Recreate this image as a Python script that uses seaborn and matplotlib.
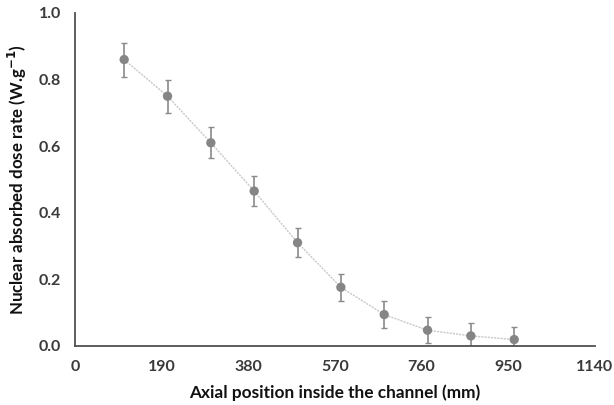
import numpy as np
import pandas as pd
import matplotlib
matplotlib.use("Agg")
import matplotlib.pyplot as plt
from matplotlib.ticker import MultipleLocator
import seaborn as sns

# values
position_mm = [108, 203, 298, 393, 488, 583, 678, 773, 868, 963]
dose_rate = [0.86, 0.75, 0.61, 0.465, 0.31, 0.176, 0.094, 0.047, 0.030, 0.019]
dose_err = [0.051, 0.050, 0.047, 0.046, 0.043, 0.040, 0.040, 0.039, 0.039, 0.038]

df = pd.DataFrame({"pos": position_mm, "dose": dose_rate, "err": dose_err})

sns.set_style("white")
plt.rcParams["font.family"] = ["Lato", "DejaVu Sans"]

fig = plt.figure(figsize=(6.14, 4.05), dpi=100)
ax = fig.add_axes([0.122, 0.146, 0.847, 0.822])

# faint connecting line
sns.lineplot(data=df, x="pos", y="dose", ax=ax, color="#c8c8c8",
             linewidth=1.0, linestyle=(0, (1.5, 0.8)), zorder=1)
ax.errorbar(df["pos"], df["dose"], yerr=df["err"], fmt="none",
            ecolor="#8a8a8a", elinewidth=1.2, capsize=2.5, capthick=1.0, zorder=2)
sns.scatterplot(data=df, x="pos", y="dose", ax=ax, color="#858585",
                s=45, edgecolor="none", zorder=3)

ax.set_xlim(0, 1140)
ax.set_ylim(0, 1.0)
ax.xaxis.set_major_locator(MultipleLocator(190))
ax.xaxis.set_minor_locator(MultipleLocator(95))
ax.yaxis.set_major_locator(MultipleLocator(0.2))
ax.yaxis.set_minor_locator(MultipleLocator(0.1))
ax.yaxis.set_major_formatter(matplotlib.ticker.FormatStrFormatter("%.1f"))

for side in ["top", "right"]:
    ax.spines[side].set_visible(False)
for side in ["left", "bottom"]:
    ax.spines[side].set_color("#505050")
    ax.spines[side].set_linewidth(1.3)

ax.tick_params(which="both", direction="in", color="#505050", width=1.2,
               labelsize=11.5, labelcolor="#3a3a3a")
ax.tick_params(which="major", length=4, pad=10)
ax.tick_params(which="minor", length=4)
for lbl in ax.get_xticklabels() + ax.get_yticklabels():
    lbl.set_fontweight("bold")

ax.set_xlabel("Axial position inside the channel (mm)", fontsize=12.4,
              fontweight="bold", labelpad=8, color="#111111")
ax.set_ylabel("Nuclear absorbed dose rate (W.g$^{\\mathbf{-1}}$)", fontsize=12.2,
              fontweight="bold", labelpad=7, color="#111111")

fig.savefig("out.png", dpi=100)
